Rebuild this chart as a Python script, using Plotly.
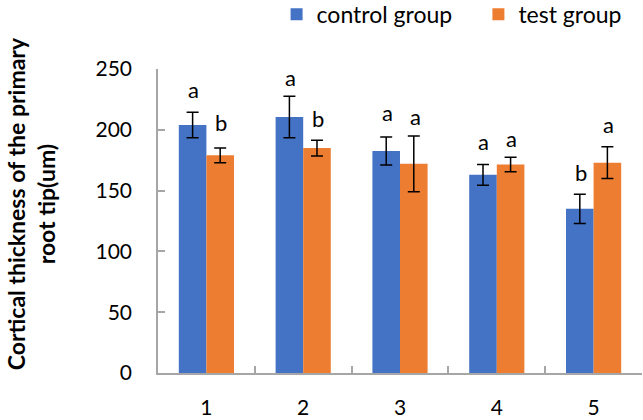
import plotly.graph_objects as go

categories = ["1", "2", "3", "4", "5"]
control = [204, 210.5, 182.5, 163, 135]
control_err = [10.5, 17, 11.5, 8.5, 12]
test = [179, 185, 172, 171.5, 173]
test_err = [6, 6.5, 23, 6, 13]
control_letters = ["a", "a", "a", "a", "b"]
test_letters = ["b", "b", "a", "a", "a"]
control_letter_y = [233, 243, 214, 190, 165]
test_letter_y = [206, 209, 211, 193, 204]
y_ticks = [0, 50, 100, 150, 200, 250]
y_title = "<b>Cortical thickness of the primary<br>root tip(um)</b>"

FONT = "Lato"
BLUE = "#4472C4"
ORANGE = "#ED7D31"
AXIS = "#A6A6A6"

fig = go.Figure()
fig.add_trace(go.Bar(
    x=categories, y=control, name="control group", legend="legend", showlegend=True,
    marker=dict(color=BLUE, line=dict(width=0)),
    error_y=dict(type="data", array=control_err, color="black", thickness=1.5, width=6),
))
fig.add_trace(go.Bar(
    x=categories, y=test, name="test group", legend="legend2", showlegend=True,
    marker=dict(color=ORANGE, line=dict(width=0)),
    error_y=dict(type="data", array=test_err, color="black", thickness=1.5, width=6),
))

annotations = []
for i, (l, yv) in enumerate(zip(control_letters, control_letter_y)):
    annotations.append(dict(x=i, y=yv, xref="x", yref="y", text=l, showarrow=False, xshift=-13,
                            font=dict(family=FONT, size=22, color="black")))
for i, (l, yv) in enumerate(zip(test_letters, test_letter_y)):
    annotations.append(dict(x=i, y=yv, xref="x", yref="y", text=l, showarrow=False, xshift=15,
                            font=dict(family=FONT, size=22, color="black")))
annotations.append(dict(x=-0.2635, y=0.5566, xref="paper", yref="paper", text=y_title,
                        textangle=-90, showarrow=False, xanchor="center", yanchor="middle",
                        font=dict(family=FONT, size=23, color="black")))

legend_common = dict(orientation="h", xanchor="left", y=0.966, yanchor="middle",
                     yref="container", font=dict(family=FONT, size=23, color="black"),
                     bgcolor="rgba(0,0,0,0)")

fig.update_layout(
    width=643, height=420,
    margin=dict(l=158, r=1, t=69, b=42),
    paper_bgcolor="white", plot_bgcolor="white",
    barmode="group", bargap=0.43, bargroupgap=0,
    showlegend=True,
    font=dict(family=FONT, size=20, color="black"),
    legend=dict(x=0.245, **legend_common),
    legend2=dict(x=0.662, **legend_common),
    annotations=annotations,
    xaxis=dict(
        type="category", showline=True, linecolor=AXIS, linewidth=1.5,
        ticks="inside", ticklen=7, tickcolor=AXIS, tickwidth=1.5,
        tickson="boundaries", showgrid=False, zeroline=False,
        tickfont=dict(family=FONT, size=21, color="black"),
        ticklabelstandoff=15,
    ),
    yaxis=dict(
        range=[0, 250], tickvals=y_ticks, showline=True, linecolor=AXIS, linewidth=1.5,
        ticks="inside", ticklen=7, tickcolor=AXIS, tickwidth=1.5,
        showgrid=False, zeroline=False,
        tickfont=dict(family=FONT, size=21, color="black"),
        ticklabelstandoff=20,
    ),
)

fig.write_html("out.html")
